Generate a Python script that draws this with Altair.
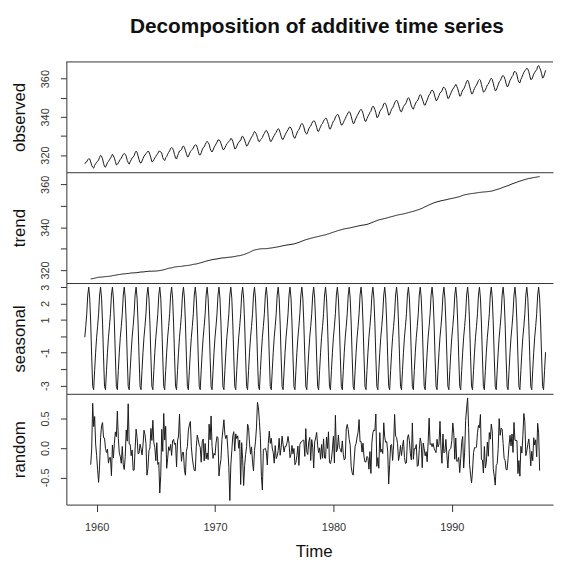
import altair as alt
import numpy as np
import pandas as pd

# Monthly atmospheric CO2 (ppm), Jan 1959 .. Dec 1997 (the "observed" panel)
start_year = 1959
observed = [
315.42,316.31,316.50,317.56,318.13,318.00,316.39,314.65,313.68,313.18,314.66,315.43,
316.27,316.81,317.42,318.87,319.87,319.43,318.01,315.74,314.00,313.68,314.84,316.03,
316.73,317.54,318.38,319.31,320.42,319.61,318.42,316.63,314.83,315.16,315.94,316.85,
317.78,318.40,319.53,320.42,320.85,320.45,319.45,317.25,316.11,315.27,316.53,317.53,
318.58,318.92,319.70,321.22,322.08,321.31,319.58,317.61,316.05,315.83,316.91,318.20,
319.41,320.07,320.74,321.40,322.06,321.73,320.27,318.54,316.54,316.71,317.53,318.55,
319.27,320.28,320.73,321.97,322.00,321.71,321.05,318.71,317.66,317.14,318.70,319.25,
320.46,321.43,322.23,323.54,323.91,323.59,322.24,320.20,318.48,317.94,319.63,320.87,
322.17,322.34,322.88,324.25,324.83,323.93,322.38,320.76,319.10,319.24,320.56,321.80,
322.40,322.99,323.73,324.86,325.40,325.20,323.98,321.95,320.18,320.09,321.16,322.74,
323.83,324.26,325.47,326.50,327.21,326.54,325.72,323.50,322.22,321.62,322.69,323.95,
324.89,325.82,326.77,327.97,327.91,327.50,326.18,324.53,322.93,322.90,323.85,324.96,
326.01,326.51,327.01,327.62,328.76,328.40,327.20,325.27,323.20,323.40,324.63,325.85,
326.60,327.47,327.58,329.56,329.90,328.92,327.88,326.16,324.68,325.04,326.34,327.39,
328.37,329.40,330.14,331.33,332.31,331.90,330.70,329.15,327.35,327.02,327.99,328.48,
329.18,330.55,331.32,332.48,332.92,332.08,331.01,329.23,327.27,327.21,328.29,329.41,
330.23,331.25,331.87,333.14,333.80,333.43,331.73,329.90,328.40,328.17,329.32,330.59,
331.58,332.39,333.33,334.41,334.71,334.17,332.89,330.77,329.14,328.78,330.14,331.52,
332.75,333.24,334.53,335.90,336.57,336.10,334.76,332.59,331.42,330.98,332.24,333.68,
334.80,335.22,336.47,337.59,337.84,337.72,336.37,334.51,332.60,332.38,333.75,334.78,
336.05,336.59,337.79,338.71,339.30,339.12,337.56,335.92,333.75,333.70,335.12,336.56,
337.84,338.19,339.91,340.60,341.29,341.00,339.39,337.43,335.72,335.84,336.93,338.04,
339.06,340.30,341.21,342.33,342.74,342.08,340.32,338.26,336.52,336.68,338.19,339.44,
340.57,341.44,342.53,343.39,343.96,343.18,341.88,339.65,337.81,337.69,339.09,340.32,
341.20,342.35,342.93,344.77,345.58,345.14,343.81,342.21,339.69,339.82,340.98,342.82,
343.52,344.33,345.11,346.88,347.25,346.62,345.22,343.11,340.90,341.18,342.80,344.04,
344.79,345.82,347.25,348.17,348.74,348.07,346.38,344.51,342.92,342.62,344.06,345.38,
346.11,346.78,347.68,349.37,350.03,349.37,347.76,345.73,344.68,343.99,345.48,346.72,
347.84,348.29,349.23,350.80,351.66,351.07,349.33,347.92,346.27,346.18,347.64,348.78,
350.25,351.54,352.05,353.41,354.04,353.62,352.22,350.27,348.55,348.72,349.91,351.18,
352.60,352.92,353.53,355.26,355.52,354.97,353.75,351.52,349.64,349.83,351.14,352.37,
353.50,354.55,355.23,356.04,357.00,356.07,354.67,352.76,350.82,351.04,352.69,354.07,
354.59,355.63,357.03,358.48,359.22,358.12,356.06,353.92,352.05,352.11,353.64,354.89,
355.88,356.63,357.72,359.07,359.58,359.17,356.94,354.92,352.94,353.23,354.09,355.33,
356.63,357.10,358.32,359.41,360.23,359.55,357.53,355.48,353.67,353.95,355.30,356.78,
358.34,358.89,359.95,361.25,361.67,360.94,359.55,357.49,355.84,356.00,357.59,359.05,
359.98,361.03,361.66,363.48,363.82,363.30,361.94,359.50,358.11,357.80,359.61,360.74,
362.09,363.29,364.06,364.76,365.45,365.01,363.70,361.54,359.51,359.65,360.80,362.38,
363.23,364.06,364.61,366.40,366.84,365.68,364.52,362.57,360.24,360.83,362.49,364.34,
]

panel_names = ["observed", "trend", "seasonal", "random"]
year_ticks = [1960, 1970, 1980, 1990]
obs_ticks = [320, 330, 340, 350, 360]
seas_ticks = [-3, -2, -1, 0, 1, 2, 3]
rand_ticks = [-0.5, 0.0, 0.5]
title_text = "Decomposition of additive time series"
x_title = "Time"

# ---- classical additive decomposition (as R's decompose) ----
x = np.array(observed)
n = len(x)
t = start_year + np.arange(n) / 12.0
w = np.r_[0.5, np.ones(11), 0.5] / 12.0
trend = np.full(n, np.nan)
for i in range(6, n - 6):
    trend[i] = np.dot(w, x[i - 6:i + 7])
detr = x - trend
fig = np.array([np.nanmean(detr[m::12]) for m in range(12)])
fig = fig - fig.mean()
seasonal = np.tile(fig, n // 12)
random_ = x - trend - seasonal

series = {"observed": x, "trend": trend, "seasonal": seasonal, "random": random_}

W, H = 492, 112
xmin = start_year - 0.04 * (t[-1] - t[0])
xmax = xmin + (W / 119.7) * 10

FONT = "Liberation Sans"
LINE_COLOR = "#1a1a1a"
AX_COLOR = "#333333"


def rdom(v):
    v = v[~np.isnan(v)]
    lo, hi = v.min(), v.max()
    r = hi - lo
    return [float(lo - 0.04 * r), float(hi + 0.04 * r)]


def yaxis(name):
    common = dict(
        title=name, tickSize=6, tickColor=AX_COLOR, domainColor=AX_COLOR,
        labelAngle=270, labelAlign="center", labelBaseline="middle",
        labelPadding=15, labelFont=FONT, labelFontSize=11, labelColor="#333333",
        titleAngle=270, titleAlign="center", titleBaseline="middle",
        titleX=-47, titleY=H / 2, titleFont=FONT, titleFontSize=17,
        titleFontWeight="normal", titleColor="#111111", grid=False,
        labelOverlap=False,
    )
    if name in ("observed", "trend"):
        return alt.Axis(values=obs_ticks,
                        labelExpr="datum.value % 20 == 0 ? datum.label : ''",
                        **common)
    if name == "seasonal":
        return alt.Axis(values=seas_ticks, format="d",
                        labelExpr="(datum.value == 0 || datum.value == -2) ? '' : replace(datum.label, '\u2212', '-')",
                        **common)
    return alt.Axis(values=rand_ticks, format=".1f",
                    labelExpr="replace(datum.label, '\u2212', '-')", **common)


def xaxis(last):
    if last:
        return alt.Axis(values=year_ticks, format="d", title=x_title,
                        tickSize=7, tickColor=AX_COLOR, domainColor=AX_COLOR,
                        labelPadding=10, labelFont=FONT, labelFontSize=11,
                        labelColor="#333333", titleFont=FONT, titleFontSize=17,
                        titleFontWeight="normal", titleColor="#111111",
                        titleBaseline="top", titleY=39, titleX=250, grid=False)
    return alt.Axis(labels=False, ticks=False, title=None, domainColor=AX_COLOR,
                    grid=False)


panels = []
for k, name in enumerate(panel_names):
    v = series[name]
    df = pd.DataFrame({"t": t, "v": v}).dropna()
    line = alt.Chart(df).mark_line(color=LINE_COLOR, strokeWidth=1, clip=True).encode(
        x=alt.X("t:Q", scale=alt.Scale(domain=[float(xmin), float(xmax)], nice=False, zero=False),
                axis=xaxis(k == 3)),
        y=alt.Y("v:Q", scale=alt.Scale(domain=rdom(v), nice=False, zero=False),
                axis=yaxis(name)),
    )
    layer = line
    if k == 0:
        top = alt.Chart(pd.DataFrame({"a": [0]})).mark_rule(color=AX_COLOR, strokeWidth=1).encode(
            x=alt.value(0), x2=alt.value(W), y=alt.value(0.5))
        layer = alt.layer(line, top)
    panels.append(layer.properties(width=W, height=H))

chart = alt.vconcat(*panels, spacing=0).properties(
    title=alt.TitleParams(title_text, font=FONT, fontSize=21, fontWeight="bold",
                          color="#111111", anchor="middle", dx=35, offset=25),
    padding={"left": 3, "top": 5, "right": 0, "bottom": 0},
).configure_view(stroke=None).configure_concat(spacing=0)

chart.save("out.html", embed_options={"renderer": "svg", "actions": False})
